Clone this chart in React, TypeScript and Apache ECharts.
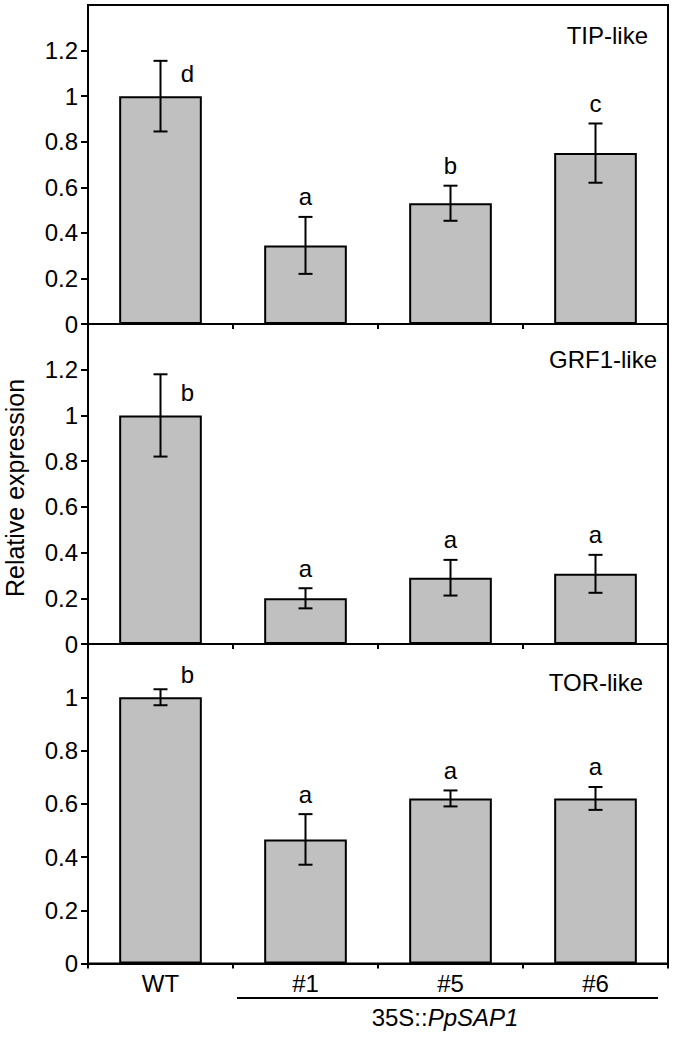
import React, { useEffect, useRef } from "react";
import * as echarts from "echarts";

const categories = ["WT", "#1", "#5", "#6"];
const panelTitles = ["TIP-like", "GRF1-like", "TOR-like"];

const tipValues = [1.0, 0.345, 0.53, 0.75];
const tipErrors = [0.155, 0.125, 0.077, 0.13];
const tipLetters = ["d", "a", "b", "c"];

const grfValues = [1.0, 0.2, 0.29, 0.307];
const grfErrors = [0.18, 0.044, 0.078, 0.083];
const grfLetters = ["b", "a", "a", "a"];

const torValues = [1.0, 0.466, 0.62, 0.62];
const torErrors = [0.03, 0.095, 0.03, 0.043];
const torLetters = ["b", "a", "a", "a"];

// letter placed beside the error bar (true) or above it (false)
const letterBeside = [true, false, false, false];

const yMaxes = [1.4, 1.4, 1.2];
const yInterval = 0.2;
const yTitle = "Relative expression";
const groupPrefix = "35S::";
const groupGene = "PpSAP1";

const FONT = "'Liberation Sans', Arial, sans-serif";
const FS = 24;

const panels = [
  { values: tipValues, errors: tipErrors, letters: tipLetters },
  { values: grfValues, errors: grfErrors, letters: grfLetters },
  { values: torValues, errors: torErrors, letters: torLetters },
];

const gridBoxes = [
  { top: 5, height: 319 },
  { top: 324, height: 320 },
  { top: 644, height: 319.5 },
];
const titlePos = [
  { x: 648, y: 35 },
  { x: 657, y: 359 },
  { x: 643, y: 682 },
];

export default function App() {
  const ref = useRef<HTMLDivElement>(null);
  useEffect(() => {
    if (!ref.current) return;
    const chart = echarts.init(ref.current, null, { renderer: "svg" });

    const grid: any[] = [];
    const xAxis: any[] = [];
    const yAxis: any[] = [];
    const series: any[] = [];

    panels.forEach((p, k) => {
      grid.push({
        left: 88,
        right: 7,
        top: gridBoxes[k].top,
        height: gridBoxes[k].height,
        show: true,
        borderColor: "#000",
        borderWidth: 2,
        backgroundColor: "transparent",
      });
      xAxis.push({
        type: "category",
        gridIndex: k,
        data: categories,
        boundaryGap: true,
        axisLine: { show: true, lineStyle: { color: "#000", width: 2 } },
        axisTick: { show: true, alignWithLabel: false, length: 5, lineStyle: { color: "#000", width: 2 } },
        axisLabel: {
          show: k === 2,
          color: "#000",
          fontSize: FS,
          fontFamily: FONT,
          margin: 8,
        },
        splitLine: { show: false },
      });
      yAxis.push({
        type: "value",
        gridIndex: k,
        min: 0,
        max: yMaxes[k],
        interval: yInterval,
        axisLine: { show: true, lineStyle: { color: "#000", width: 2 } },
        axisTick: { show: true, length: 7, lineStyle: { color: "#000", width: 2 } },
        axisLabel: {
          color: "#000",
          fontSize: FS,
          fontFamily: FONT,
          margin: 10,
          showMaxLabel: false,
        },
        splitLine: { show: false },
      });
      series.push({
        type: "bar",
        xAxisIndex: k,
        yAxisIndex: k,
        data: p.values,
        barWidth: "57%",
        itemStyle: { color: "#c0c0c0", borderColor: "#000", borderWidth: 2 },
        silent: true,
      });
      series.push({
        type: "custom",
        xAxisIndex: k,
        yAxisIndex: k,
        data: p.values.map((v, i) => [i, v - p.errors[i], v + p.errors[i]]),
        renderItem: (params: any, api: any) => {
          const i = api.value(0);
          const lo = api.coord([i, api.value(1)]);
          const hi = api.coord([i, api.value(2)]);
          const hw = 7;
          const st = { stroke: "#000", lineWidth: 2 };
          return {
            type: "group",
            children: [
              { type: "line", shape: { x1: lo[0], y1: lo[1], x2: hi[0], y2: hi[1] }, style: st },
              { type: "line", shape: { x1: lo[0] - hw, y1: lo[1], x2: lo[0] + hw, y2: lo[1] }, style: st },
              { type: "line", shape: { x1: hi[0] - hw, y1: hi[1], x2: hi[0] + hw, y2: hi[1] }, style: st },
            ],
          };
        },
        z: 3,
        silent: true,
      });
      series.push({
        type: "custom",
        xAxisIndex: k,
        yAxisIndex: k,
        data: p.values.map((v, i) => [i, v, v + p.errors[i]]),
        renderItem: (params: any, api: any) => {
          const i = api.value(0);
          const idx = params.dataIndex;
          const barTop = api.coord([i, api.value(1)]);
          const errTop = api.coord([i, api.value(2)]);
          let x: number, y: number;
          if (letterBeside[idx]) {
            x = barTop[0] + 27;
            y = barTop[1] - 23;
          } else {
            x = errTop[0];
            y = errTop[1] - 20;
          }
          return {
            type: "text",
            x,
            y,
            style: {
              text: p.letters[idx],
              fill: "#000",
              fontSize: FS,
              fontFamily: FONT,
              textAlign: "center",
              textVerticalAlign: "middle",
              align: "center",
              verticalAlign: "middle",
            },
          };
        },
        z: 4,
        silent: true,
      });
    });

    const graphic: any[] = panelTitles.map((t, k) => ({
      type: "text",
      x: titlePos[k].x,
      y: titlePos[k].y,
      style: {
        text: t,
        fill: "#000",
        fontSize: FS,
        fontFamily: FONT,
        textAlign: "right",
        textVerticalAlign: "middle",
        align: "right",
        verticalAlign: "middle",
      },
    }));
    graphic.push({
      type: "text",
      x: 15,
      y: 488,
      rotation: Math.PI / 2,
      style: {
        text: yTitle,
        fill: "#000",
        fontSize: 25,
        fontFamily: FONT,
        textAlign: "center",
        textVerticalAlign: "middle",
        align: "center",
        verticalAlign: "middle",
      },
    });
    graphic.push({
      type: "line",
      shape: { x1: 237, y1: 998, x2: 658, y2: 998 },
      style: { stroke: "#000", lineWidth: 2 },
    });
    graphic.push({
      type: "text",
      x: 445,
      y: 1017,
      style: {
        text: `{n|${groupPrefix}}{i|${groupGene}}`,
        fill: "#000",
        fontSize: FS,
        fontFamily: FONT,
        textAlign: "center",
        textVerticalAlign: "middle",
        align: "center",
        verticalAlign: "middle",
        rich: {
          n: { fontSize: FS, fontFamily: FONT, fill: "#000", color: "#000" },
          i: { fontSize: FS, fontFamily: FONT, fontStyle: "italic", fill: "#000", color: "#000" },
        },
      },
    });

    chart.setOption({
      animation: false,
      backgroundColor: "#fff",
      grid,
      xAxis,
      yAxis,
      series,
      graphic,
    });
    return () => chart.dispose();
  }, []);
  return (
    <div
      ref={ref}
      style={{ position: "absolute", left: 0, top: 0, width: 675, height: 1038 }}
    />
  );
}
